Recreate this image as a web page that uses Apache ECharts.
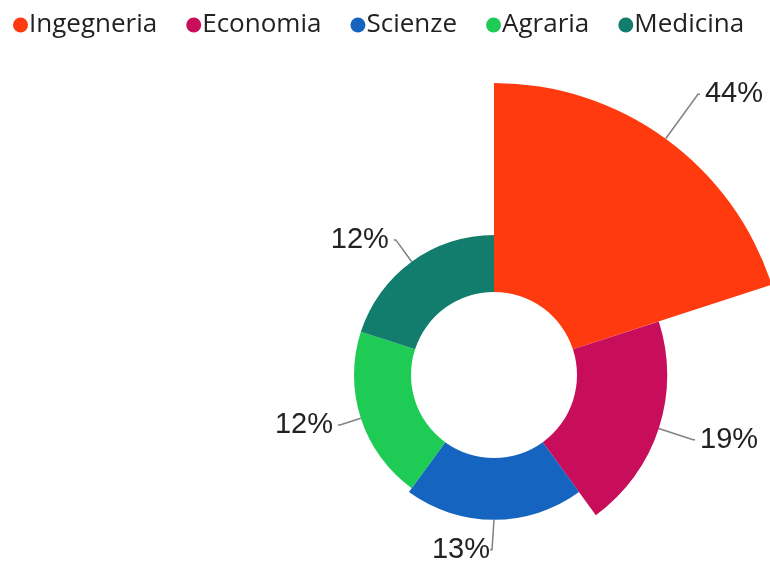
<!DOCTYPE html>
<html style="height: 100%">
<head>
    <meta charset="utf-8">
    <title>Facoltà</title>
</head>
<body style="height: 100%; margin: 0">
<div id="container" style="width: 770px; height: 565px"></div>
<script type="text/javascript" src="https://cdn.jsdelivr.net/npm/echarts@6/dist/echarts.min.js"></script>
<script type="text/javascript">
    // dati
    var categories = ['Ingegneria', 'Economia', 'Scienze', 'Agraria', 'Medicina'];
    var values = [44, 19, 13, 12, 12];
    var colors = ['#ff3a0e', '#c80d5a', '#1565c0', '#1ecb55', '#127d6c'];
    // lunghezza visibile delle linee etichette (circa 1/5 del raggio)
    var lineLen = [55, 36, 30, 22, 27];

    var R0 = 83, R = 292;
    var maxValue = Math.max.apply(null, values);

    var chart = echarts.init(document.getElementById('container'), null, {renderer: 'canvas'});

    var data = categories.map(function (name, i) {
        // con roseType le linee partono sempre dal raggio massimo: si compensa
        var gap = (R - R0) * (maxValue - values[i]) / maxValue;
        return {
            name: name,
            value: values[i],
            itemStyle: {color: colors[i]},
            labelLine: {length: lineLen[i] - gap}
        };
    });

    var option = {
        animation: false,
        legend: {
            top: 7,
            left: 8,
            icon: 'circle',
            itemWidth: 15,
            itemHeight: 15,
            itemGap: 29,
            textStyle: {
                fontFamily: 'Open Sans',
                fontSize: 26,
                color: '#222',
                padding: [0, 0, 0, -4]
            },
            data: categories
        },
        series: [
            {
                type: 'pie',
                roseType: 'area',
                center: [494, 375],
                radius: [R0, R],
                startAngle: 90,
                avoidLabelOverlap: false,
                label: {
                    formatter: '{d}%',
                    fontFamily: 'Liberation Sans',
                    fontSize: 29,
                    color: '#222'
                },
                labelLine: {
                    length2: 2,
                    lineStyle: {color: '#808080', width: 1.5}
                },
                // etichetta di Scienze a sinistra della linea
                labelLayout: function (params) {
                    if (categories[params.dataIndex] === 'Scienze' && params.labelLinePoints) {
                        var end = params.labelLinePoints[2];
                        return {align: 'right', x: end[0] - 6};
                    }
                },
                data: data
            }
        ]
    };

    chart.setOption(option);
    window.addEventListener('resize', chart.resize);
</script>
</body>
</html>
